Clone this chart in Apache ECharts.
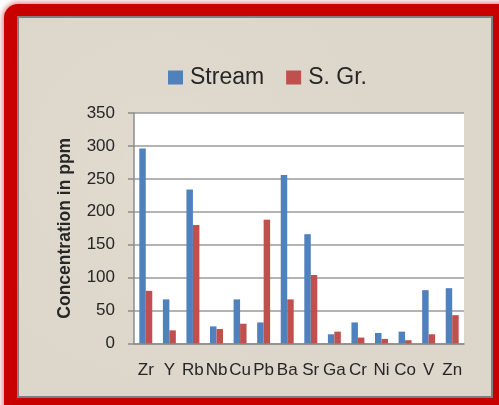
<!DOCTYPE html>
<html>
<head>
<meta charset="utf-8">
<script src="https://cdn.jsdelivr.net/npm/echarts@6/dist/echarts.min.js"></script>
<style>
  html, body { margin: 0; padding: 0; width: 499px; height: 405px; overflow: hidden; background: #ffffff; }
  #frame { position: absolute; left: 4px; top: 4px; width: 520px; height: 430px;
           background: #C80000; border-radius: 14px;
           box-shadow: 0 0 5px 2px rgba(200,0,0,0.45); }
  #panel { position: absolute; left: 17px; top: 16px; width: 472px; height: 378px;
           border: 2px solid #7f8080; background: #DDD6CA;
           background-image: radial-gradient(circle at 30% 40%, rgba(255,255,255,0.10), rgba(0,0,0,0) 60%); }
  #chart { position: absolute; left: 0; top: 0; width: 499px; height: 405px; }
</style>
</head>
<body>
<div id="frame"></div>
<div id="panel"></div>
<div id="chart"></div>
<script>
const categories = ['Zr', 'Y', 'Rb', 'Nb', 'Cu', 'Pb', 'Ba', 'Sr', 'Ga', 'Cr', 'Ni', 'Co', 'V', 'Zn'];
const streamValues = [296, 67, 234, 26, 67, 32, 256, 166, 14, 32, 16, 18, 81, 84];
const sGrValues = [80, 20, 180, 22, 30, 188, 67, 104, 18, 9, 7, 5, 14, 43];
const yTicks = { min: 0, max: 350, interval: 50 };

const chart = echarts.init(document.getElementById('chart'), null, { renderer: 'canvas' });
chart.setOption({
  backgroundColor: 'transparent',
  animation: false,
  legend: {
    data: ['Stream', 'S. Gr.'],
    left: 163,
    top: 61,
    itemWidth: 15,
    itemHeight: 14,
    itemGap: 22,
    icon: 'rect',
    textStyle: { fontFamily: 'Liberation Sans', fontSize: 23, color: '#262626', padding: [0, 0, 0, 2] }
  },
  grid: {
    left: 134, right: 35, top: 113, bottom: 61.5,
    show: true, backgroundColor: '#ffffff', borderWidth: 0
  },
  xAxis: {
    type: 'category',
    data: categories,
    axisLine: { lineStyle: { color: '#8c8c8c', width: 1.5 } },
    axisTick: { show: false },
    axisLabel: { fontFamily: 'Liberation Sans', fontSize: 17, color: '#262626', margin: 18, interval: 0 }
  },
  yAxis: {
    type: 'value',
    min: yTicks.min, max: yTicks.max, interval: yTicks.interval,
    name: 'Concentration in ppm',
    nameLocation: 'middle',
    nameGap: 60,
    nameTextStyle: { fontFamily: 'Liberation Sans', fontSize: 17.5, fontWeight: 'bold', color: '#262626' },
    axisLine: { show: true, lineStyle: { color: '#8c8c8c', width: 1.5 } },
    axisTick: { show: true, length: 6, lineStyle: { color: '#8c8c8c', width: 1.5 } },
    splitLine: { lineStyle: { color: '#9a9a9a', width: 1.5 } },
    axisLabel: { fontFamily: 'Liberation Sans', fontSize: 17, color: '#262626', margin: 19 }
  },
  series: [
    { name: 'Stream', type: 'bar', data: streamValues, barGap: '0%', barCategoryGap: '45%',
      itemStyle: { color: '#4F81BD' } },
    { name: 'S. Gr.', type: 'bar', data: sGrValues, barGap: '0%', barCategoryGap: '45%',
      itemStyle: { color: '#C0504D' } }
  ]
});
</script>
</body>
</html>
